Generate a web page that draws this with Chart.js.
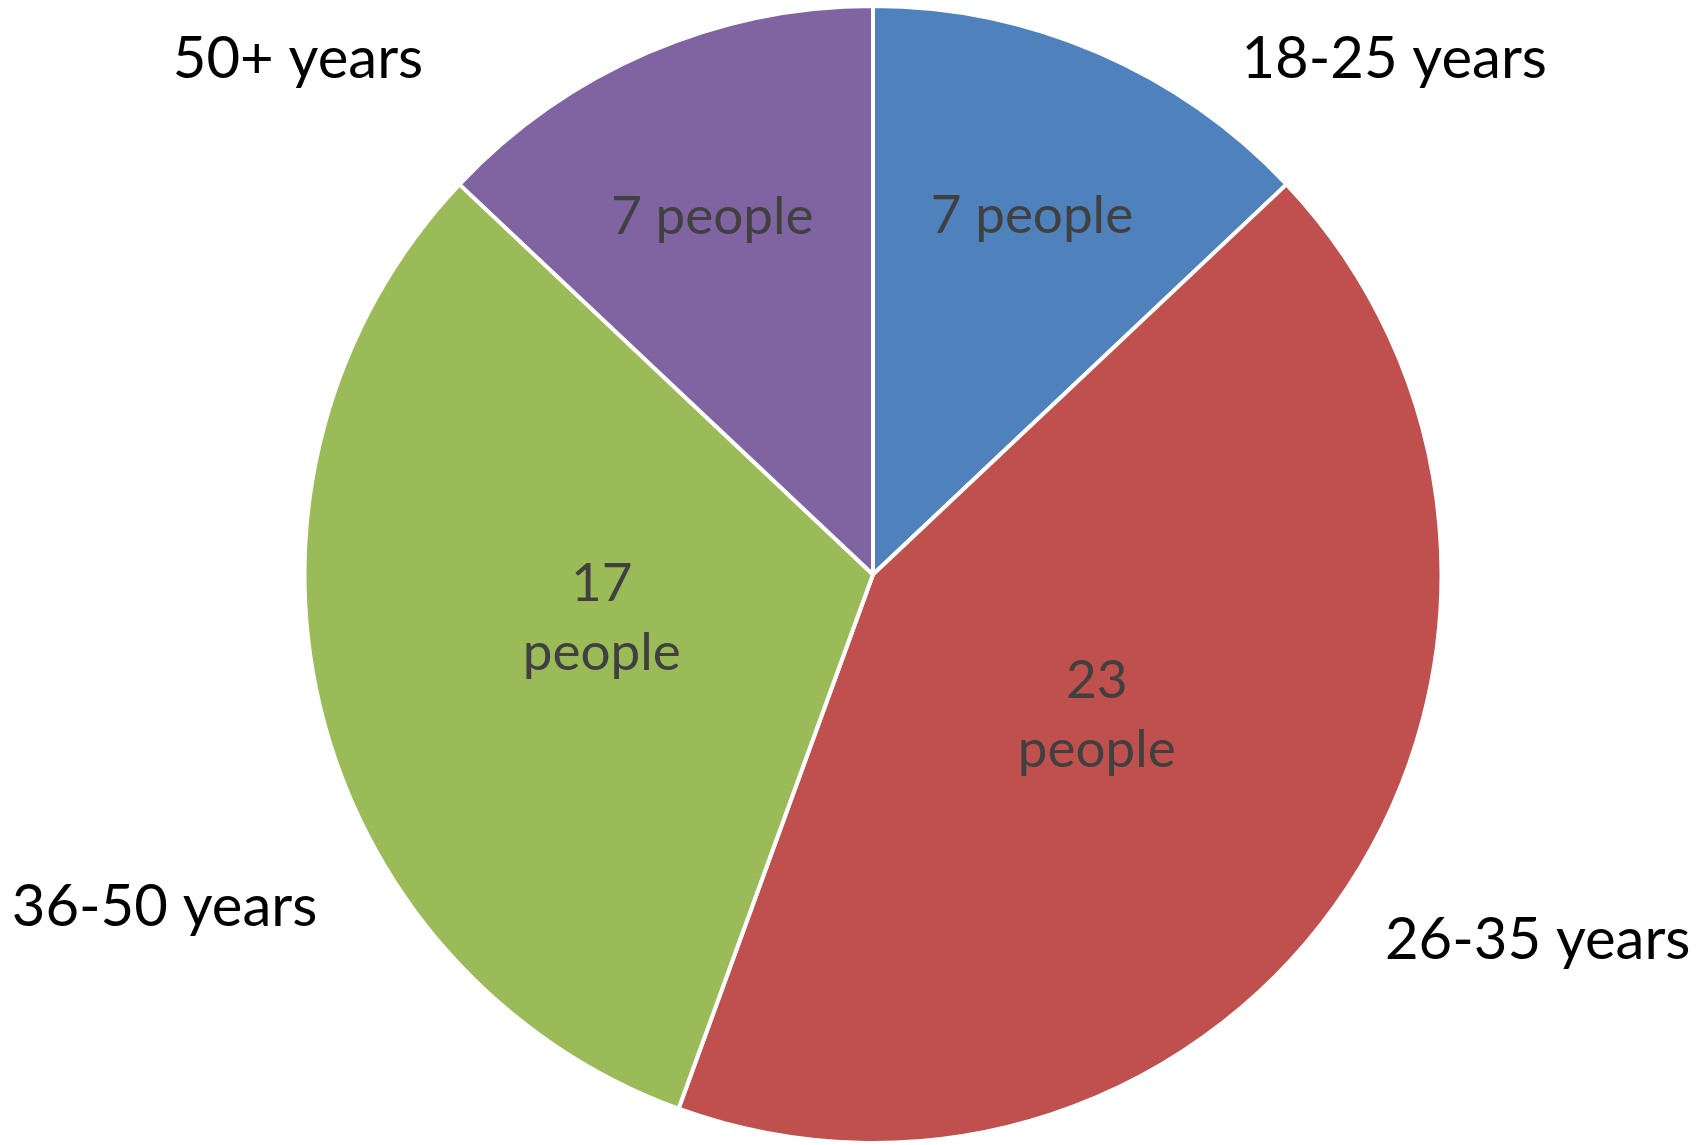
<!DOCTYPE html>
<html>
<head>
<meta charset="utf-8">
<script src="https://cdn.jsdelivr.net/npm/chart.js@4/dist/chart.umd.min.js"></script>
<style>
  html, body { margin: 0; padding: 0; background: #fff; }
  #wrap { width: 1705px; height: 1145px; }
</style>
</head>
<body>
<div id="wrap"><canvas id="chart-age" width="1705" height="1145"></canvas></div>
<script>
// Age groups and head counts
const ageGroups = ['18-25 years', '26-35 years', '36-50 years', '50+ years'];
const peopleCounts = [7, 23, 17, 7];
const valueLabels = [['7 people'], ['23', 'people'], ['17', 'people'], ['7 people']];
const sliceColors = ['#4F81BD', '#C0504D', '#9BBB59', '#8064A2'];

// label placement (polar, relative to the pie: radius factor, degrees clockwise from top)
const innerPlace = [[0.693, 23.8], [0.463, 121.8], [0.483, 261.1], [0.692, 335.9]];
const outerPlace = [[1.292, 45.2], [1.333, 118.7], [1.375, 245.0], [1.361, 312.0]];

const FONT = 'Lato, "Open Sans", sans-serif';

const pieLabels = {
  id: 'pieLabels',
  afterDatasetsDraw(chart) {
    const ctx = chart.ctx;
    const meta = chart.getDatasetMeta(0);
    ctx.save();
    ctx.textAlign = 'center';
    ctx.textBaseline = 'alphabetic';
    meta.data.forEach((arc, i) => {
      const { x, y, outerRadius } = arc.getProps(['x', 'y', 'outerRadius'], true);
      const at = ([k, deg]) => {
        const a = deg * Math.PI / 180;
        return [x + Math.sin(a) * outerRadius * k, y - Math.cos(a) * outerRadius * k];
      };
      // value labels inside slices
      const inSize = 53, capIn = inSize * 0.7165, gap = 69;
      ctx.font = `${inSize}px ${FONT}`;
      ctx.fillStyle = '#404040';
      const lines = valueLabels[i];
      const [ix, iy] = at(innerPlace[i]);
      const blockH = capIn + gap * (lines.length - 1);
      lines.forEach((t, j) => ctx.fillText(t, ix, iy - blockH / 2 + capIn + j * gap));
      // category labels outside
      const outSize = 58;
      ctx.font = `${outSize}px ${FONT}`;
      ctx.fillStyle = '#000000';
      const [ox, oy] = at(outerPlace[i]);
      ctx.fillText(chart.data.labels[i], ox, oy + outSize * 0.7165 / 2);
    });
    ctx.restore();
  }
};

new Chart(document.getElementById('chart-age'), {
  type: 'pie',
  data: {
    labels: ageGroups,
    datasets: [{
      data: peopleCounts,
      backgroundColor: sliceColors,
      borderColor: '#FFFFFF',
      borderWidth: 4,
    }],
  },
  options: {
    responsive: false,
    animation: false,
    devicePixelRatio: 1,
    layout: { padding: { left: 41, top: 4, right: 0, bottom: -4 } },
    plugins: { legend: { display: false }, tooltip: { enabled: false } },
  },
  plugins: [pieLabels],
});
</script>
</body>
</html>
